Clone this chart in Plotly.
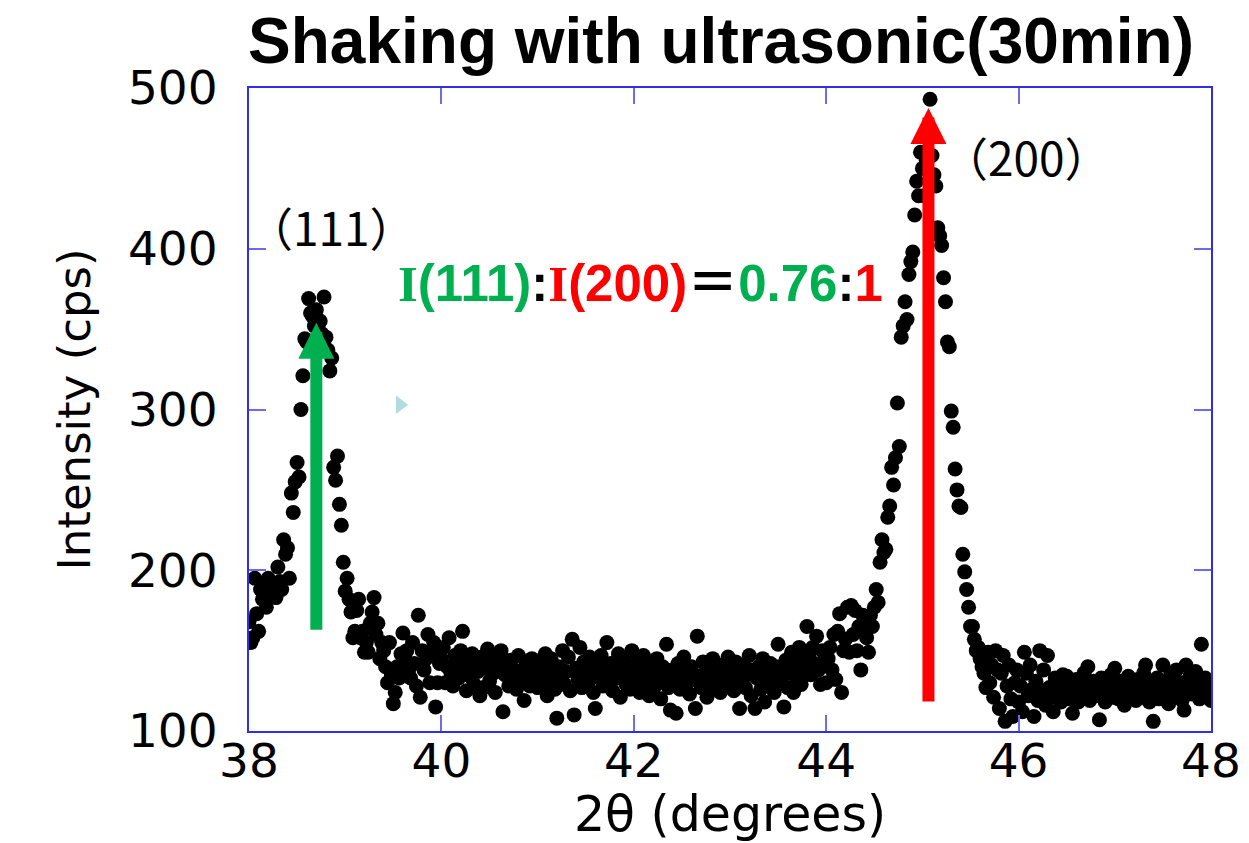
import numpy as np
import plotly.graph_objects as go

# ---- data: XRD intensity (cps), 2theta from 38.00 to 48.00 in 0.02 deg steps ----
y_38 = [168, 155, 158, 195, 173, 162, 188, 182, 190, 177,
        195, 185, 192, 188, 183, 202, 193, 188, 219, 210,
        214, 195, 248, 236, 255, 267, 258, 300, 321, 344,
        342, 369, 360, 358, 352, 362, 350, 355, 347, 370,
        345, 337, 324, 332, 264, 256, 271, 241, 228, 205]
y_39 = [187, 195, 182, 174, 158, 162, 175, 182, 158, 162,
        149, 155, 149, 167, 174, 183, 160, 167, 145, 155,
        150, 140, 130, 155, 135, 117, 124, 140, 133, 148,
        161, 145, 150, 138, 133, 155, 142, 128, 172, 121,
        150, 138, 145, 160, 130, 148, 155, 115, 130, 142]
y_40 = [145, 152, 130, 140, 158, 136, 128, 147, 141, 133,
        150, 162, 138, 125, 145, 134, 148, 129, 142, 137,
        122, 146, 127, 139, 151, 131, 143, 136, 124, 147,
        139, 150, 112, 135, 141, 128, 144, 133, 138, 126,
        147, 136, 130, 119, 142, 135, 128, 145, 132, 139]
y_41 = [127, 143, 136, 130, 148, 122, 138, 145, 131, 126,
        108, 140, 134, 150, 129, 137, 146, 125, 157, 110,
        139, 132, 152, 127, 143, 135, 129, 146, 138, 124,
        114, 141, 133, 147, 128, 136, 155, 130, 142, 125,
        139, 133, 148, 121, 137, 144, 129, 135, 126, 150]
y_42 = [138, 131, 143, 124, 136, 147, 130, 139, 122, 141,
        133, 128, 145, 136, 120, 140, 132, 154, 127, 113,
        138, 130, 111, 142, 126, 135, 146, 129, 137, 123,
        140, 132, 114, 159, 134, 127, 143, 136, 121, 138,
        130, 145, 126, 139, 133, 124, 141, 135, 128, 146]
y_43 = [132, 139, 125, 143, 136, 114, 130, 141, 127, 135,
        147, 122, 138, 114, 133, 140, 126, 145, 118, 136,
        129, 142, 134, 124, 140, 154, 131, 138, 115, 144,
        127, 136, 149, 124, 141, 133, 152, 129, 144, 138,
        165, 147, 135, 152, 142, 159, 138, 129, 150, 144]
y_44 = [130, 145, 152, 138, 160, 132, 162, 173, 124, 150,
        157, 177, 149, 178, 160, 175, 150, 165, 138, 172,
        164, 158, 149, 172, 165, 177, 188, 180, 205, 219,
        211, 213, 233, 240, 264, 253, 270, 304, 277, 345,
        352, 367, 356, 384, 392, 398, 421, 442, 433, 460]
y_45 = [450, 433, 455, 470, 493, 458, 446, 439, 413, 408,
        402, 382, 367, 342, 339, 299, 289, 263, 250, 240,
        239, 210, 199, 188, 177, 165, 165, 157, 150, 152,
        145, 140, 136, 127, 149, 130, 141, 121, 150, 138,
        114, 136, 147, 106, 128, 141, 120, 109, 130, 138]
y_46 = [118, 128, 112, 149, 136, 122, 141, 126, 109, 131,
        119, 150, 125, 138, 116, 147, 127, 121, 112, 133,
        124, 130, 118, 135, 127, 134, 120, 129, 111, 125,
        132, 118, 127, 123, 136, 128, 140, 119, 126, 131,
        122, 129, 107, 133, 124, 118, 130, 126, 135, 121]
y_47 = [139, 127, 120, 131, 124, 116, 128, 134, 122, 129,
        125, 119, 132, 127, 121, 136, 141, 124, 118, 130,
        106, 126, 133, 120, 128, 141, 124, 131, 117, 135,
        127, 122, 138, 125, 130, 119, 113, 141, 128, 134,
        123, 131, 137, 126, 120, 154, 129, 133, 124, 127]
y_48 = [119]

intensity = y_38 + y_39 + y_40 + y_41 + y_42 + y_43 + y_44 + y_45 + y_46 + y_47 + y_48
two_theta = np.round(38.0 + 0.02 * np.arange(len(intensity)), 2)

x_ticks = [38, 40, 42, 44, 46, 48]
y_ticks = [100, 200, 300, 400, 500]

peak_111 = dict(x=38.70, y_tip=354, y_tail=162)
peak_200 = dict(x=45.063, y_tip=487.5, y_tail=117.4)
stray_mark = dict(x=[39.57], y=[303])

GREEN = "#00b050"
RED = "#ff0000"
AXIS_BLUE = "#2f2fe6"
TICK_BLUE = "#6b6bec"

fig = go.Figure()
fig.add_trace(go.Scatter(
    x=two_theta, y=intensity, mode="markers",
    marker=dict(color="black", size=15, line=dict(width=0)),
    showlegend=False, hoverinfo="x+y"))
fig.add_trace(go.Scatter(
    x=stray_mark["x"], y=stray_mark["y"], mode="markers",
    marker=dict(symbol="triangle-right", color="#b0dbe0", size=16, line=dict(width=0)),
    showlegend=False, hoverinfo="skip"))

tick_font = dict(family="DejaVu Sans", size=47, color="black")

fig.update_layout(
    width=1249, height=843,
    margin=dict(l=249, r=38, t=88, b=112),
    paper_bgcolor="white", plot_bgcolor="white",
    title=dict(text="<b>Shaking with ultrasonic(30min)</b>",
               font=dict(family="Liberation Sans", size=64, color="black"),
               x=721 / 1249, xanchor="center", xref="container",
               y=1 - 41 / 843, yanchor="middle", yref="container"),
    xaxis=dict(range=[38, 48], tickvals=x_ticks, ticktext=[str(v) for v in x_ticks],
               ticks="inside", ticklen=16, tickwidth=2, tickcolor=TICK_BLUE,
               showline=True, linecolor=AXIS_BLUE, linewidth=2, mirror="ticks",
               showgrid=False, zeroline=False, tickfont=tick_font,
               ticklabelstandoff=-12, automargin=False,
               title=dict(text="2θ (degrees)", font=dict(family="DejaVu Sans", size=49, color="black"),
                          standoff=10)),
    yaxis=dict(range=[100, 500], tickvals=y_ticks, ticktext=[str(v) for v in y_ticks],
               ticks="inside", ticklen=17, tickwidth=2, tickcolor=TICK_BLUE,
               showline=True, linecolor=AXIS_BLUE, linewidth=2, mirror="ticks",
               showgrid=False, zeroline=False, tickfont=tick_font,
               ticklabelstandoff=20, automargin=False,
               title=dict(text="Intensity (cps)", font=dict(family="DejaVu Sans", size=45, color="black"),
                          standoff=23)),
)

# arrows
for pk, col in ((peak_111, GREEN), (peak_200, RED)):
    fig.add_annotation(x=pk["x"], y=pk["y_tip"], ax=pk["x"], ay=pk["y_tail"],
                       xref="x", yref="y", axref="x", ayref="y",
                       text="", showarrow=True, arrowhead=2, arrowsize=0.6,
                       arrowwidth=12, arrowcolor=col, standoff=0, startstandoff=0)

# peak labels
fig.add_annotation(x=38.86, y=414, xref="x", yref="y", text="（111）", showarrow=False,
                   font=dict(family="Noto Sans CJK JP", size=46, color="black"))
fig.add_annotation(x=46.08, y=458, xref="x", yref="y", text="（200）", showarrow=False,
                   font=dict(family="Noto Sans CJK JP", size=46, color="black"))

SERIF_I = "<span style='font-family:Liberation Serif'>I</span>"
ratio = (f"<b><span style='color:{GREEN}'>{SERIF_I}(111)</span>"
         f"<span style='color:black'>:</span>"
         f"<span style='color:{RED}'>{SERIF_I}(200)</span>"
         f"<span style='color:black;font-family:Noto Sans CJK JP'>＝</span>"
         f"<span style='color:{GREEN}'>0.76</span>"
         f"<span style='color:black'>:</span>"
         f"<span style='color:{RED}'>1</span></b>")
fig.add_annotation(x=42.07, y=381, xref="x", yref="y", text=ratio, showarrow=False,
                   font=dict(family="Liberation Sans", size=51, color="black"))

fig.write_html("out.html", config={"displayModeBar": False},
               post_script="document.body.style.margin='0';")
